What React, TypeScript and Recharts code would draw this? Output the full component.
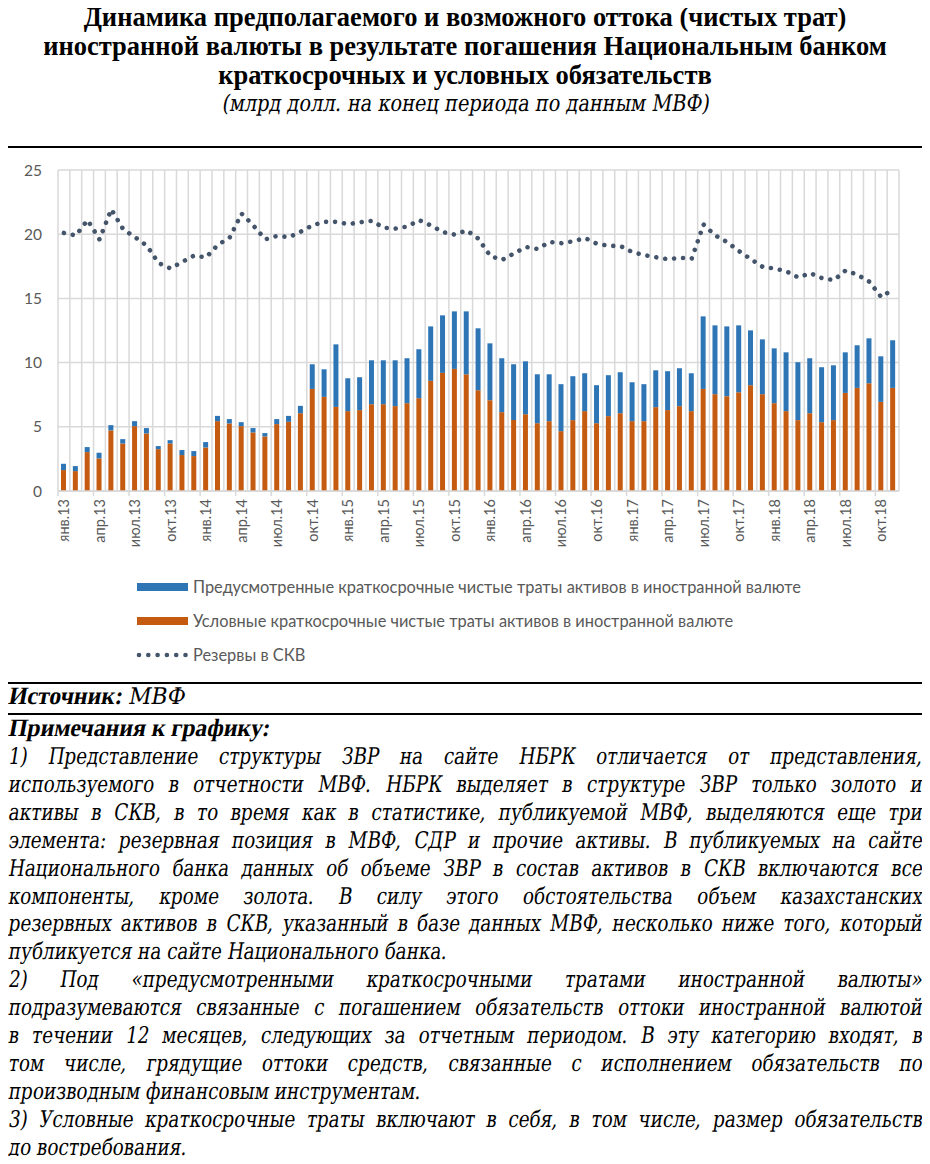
import React from 'react';
import { ComposedChart, Bar, Line, XAxis, YAxis, CartesianGrid } from 'recharts';

const months = [
  'янв.13','фев.13','мар.13','апр.13','май.13','июн.13','июл.13','авг.13','сен.13','окт.13','ноя.13','дек.13',
  'янв.14','фев.14','мар.14','апр.14','май.14','июн.14','июл.14','авг.14','сен.14','окт.14','ноя.14','дек.14',
  'янв.15','фев.15','мар.15','апр.15','май.15','июн.15','июл.15','авг.15','сен.15','окт.15','ноя.15','дек.15',
  'янв.16','фев.16','мар.16','апр.16','май.16','июн.16','июл.16','авг.16','сен.16','окт.16','ноя.16','дек.16',
  'янв.17','фев.17','мар.17','апр.17','май.17','июн.17','июл.17','авг.17','сен.17','окт.17','ноя.17','дек.17',
  'янв.18','фев.18','мар.18','апр.18','май.18','июн.18','июл.18','авг.18','сен.18','окт.18','ноя.18',
];

// Условные краткосрочные чистые траты (orange)
const conditional = [
  1.63, 1.55, 3.03, 2.54, 4.72, 3.70, 5.05, 4.48, 3.26, 3.70, 2.80, 2.72,
  3.39, 5.44, 5.26, 5.05, 4.56, 4.25, 5.21, 5.39, 6.06, 7.95, 7.33, 6.55,
  6.22, 6.30, 6.76, 6.76, 6.61, 6.84, 7.23, 8.58, 9.20, 9.51, 9.09, 7.85,
  7.07, 6.14, 5.52, 5.98, 5.28, 5.44, 4.66, 5.52, 6.22, 5.28, 5.83, 6.06,
  5.44, 5.44, 6.53, 6.30, 6.61, 6.22, 7.95, 7.54, 7.38, 7.69, 8.24, 7.54,
  6.84, 6.22, 5.52, 6.06, 5.36, 5.52, 7.64, 8.03, 8.39, 6.94, 8.03,
];

// Предусмотренные краткосрочные чистые траты (blue)
const predetermined = [
  0.49, 0.39, 0.39, 0.44, 0.41, 0.34, 0.39, 0.42, 0.24, 0.26, 0.39, 0.39,
  0.42, 0.41, 0.34, 0.31, 0.34, 0.26, 0.39, 0.46, 0.57, 1.92, 2.15, 4.87,
  2.56, 2.56, 3.42, 3.42, 3.57, 3.50, 3.81, 4.24, 4.48, 4.48, 4.90, 4.82,
  4.43, 4.20, 4.35, 4.12, 3.81, 3.65, 3.66, 3.42, 2.95, 2.96, 3.19, 3.19,
  3.03, 2.88, 2.87, 3.03, 2.95, 2.95, 5.65, 5.36, 5.44, 5.21, 4.27, 4.27,
  4.27, 4.58, 4.51, 4.28, 4.28, 4.27, 3.16, 3.32, 3.50, 3.55, 3.71,
];

// Резервы в СКВ
const reserves = [
  20.1, 19.9, 21.1, 19.6, 21.94, 20.39, 19.77, 19.1, 17.75, 17.33, 17.85, 18.34,
  18.19, 19.17, 19.74, 21.6, 20.67, 19.6, 19.87, 19.77, 20.2, 20.7, 20.96, 20.96,
  20.78, 20.93, 21.04, 20.5, 20.44, 20.6, 21.09, 20.67, 20.16, 19.97, 20.3, 19.64,
  18.3, 18.0, 18.5, 19.0, 18.85, 19.4, 19.3, 19.45, 19.7, 19.25, 19.1, 19.07,
  18.6, 18.37, 18.2, 18.05, 18.16, 18.1, 20.75, 19.9, 19.38, 18.68, 18.06, 17.45,
  17.33, 17.1, 16.63, 16.97, 16.58, 16.42, 17.18, 16.84, 16.3, 15.1, 15.72,
];

const yTicks = [0, 5, 10, 15, 20, 25];

const seriesNames = {
  pred: 'Предусмотренные краткосрочные чистые траты активов в иностранной валюте',
  cond: 'Условные краткосрочные чистые траты активов в иностранной валюте',
  res: 'Резервы в СКВ',
};

const titleLines = [
  'Динамика предполагаемого и возможного оттока (чистых трат)',
  'иностранной валюты в результате погашения Национальным банком',
  'краткосрочных и условных обязательств',
];
const subtitle = '(млрд долл. на конец периода по данным МВФ)';

const noteLines: [string, boolean][] = [
  ['1) Представление структуры ЗВР на сайте НБРК отличается от представления,', true],
  ['используемого в отчетности МВФ. НБРК выделяет в структуре ЗВР только золото и', true],
  ['активы в СКВ, в то время как в статистике, публикуемой МВФ, выделяются еще три', true],
  ['элемента: резервная позиция в МВФ, СДР и прочие активы. В публикуемых на сайте', true],
  ['Национального банка данных об объеме ЗВР в состав активов в СКВ включаются все', true],
  ['компоненты, кроме золота. В силу этого обстоятельства объем казахстанских', true],
  ['резервных активов в СКВ, указанный в базе данных МВФ, несколько ниже того, который', true],
  ['публикуется на сайте Национального банка.', false],
  ['2) Под «предусмотренными краткосрочными тратами иностранной валюты»', true],
  ['подразумеваются связанные с погашением обязательств оттоки иностранной валютой', true],
  ['в течении 12 месяцев, следующих за отчетным периодом. В эту категорию входят, в', true],
  ['том числе, грядущие оттоки средств, связанные с исполнением обязательств по', true],
  ['производным финансовым инструментам.', false],
  ['3) Условные краткосрочные траты включают в себя, в том числе, размер обязательств', true],
  ['до востребования.', false],
];

const data = months.map((m, i) => ({
  month: m,
  cond: conditional[i],
  pred: predetermined[i],
  res: reserves[i],
}));

const CHART_W = 930;
const CHART_H = 404;
const M_LEFT = 0;
const Y_W = 58;
const M_RIGHT = 31;
const PLOT_W = CHART_W - M_LEFT - Y_W - M_RIGHT;
const BAND = PLOT_W / months.length;

const BLUE = '#2E75B6';
const ORANGE = '#C55A11';
const DOT = '#44546A';
const GRID = '#D9D9D9';
const LABEL = '#595959';
const SANS = 'Lato, "Liberation Sans", sans-serif';
const SERIF_B = '"Liberation Serif", "DejaVu Serif", serif';
const SERIF_R = '"DejaVu Serif", "Liberation Serif", serif';
const NOTE_SX = 0.8;
const NOTE_W = 914 / NOTE_SX;

const XTick = (props: any) => {
  const { x, y, payload } = props;
  const bx = x - BAND / 2;
  return (
    <g>
      <line x1={bx} y1={y} x2={bx} y2={y + 5} stroke={GRID} strokeWidth={1.5} />
      <text
        x={x}
        y={y + 8}
        transform={`rotate(-90, ${x}, ${y + 8})`}
        textAnchor="end"
        dy="0.35em"
        fill={LABEL}
        fontSize={14.5}
        fontFamily={SANS}
      >
        {payload.value}
      </text>
    </g>
  );
};

const vGen = (args: any) => {
  const off = args && args.offset ? args.offset : { left: M_LEFT + Y_W, width: PLOT_W };
  const step = off.width / months.length;
  const arr: number[] = [];
  for (let i = 0; i <= months.length; i++) arr.push(off.left + i * step);
  return arr;
};

const noteStyle = (top: number, justify: boolean, bold = false): React.CSSProperties => ({
  position: 'absolute',
  left: 8,
  top,
  width: NOTE_W,
  fontFamily: bold ? SERIF_B : SERIF_R,
  fontWeight: bold ? 'bold' : 'normal',
  fontSize: bold ? 25 : 23,
  lineHeight: '28px',
  textAlign: justify ? 'justify' : 'left',
  textAlignLast: justify ? 'justify' : 'left',
  transform: `scaleX(${bold ? 0.95 : NOTE_SX}) skewX(-11deg)`,
  transformOrigin: '0 75%',
  whiteSpace: 'normal',
});

export default function App() {
  return (
    <div
      style={{
        position: 'relative',
        width: 930,
        height: 1164,
        margin: -8,
        background: '#fff',
        overflow: 'hidden',
        fontFamily: SERIF_B,
        color: '#000',
      }}
    >
      {titleLines.map((t, i) => (
        <div
          key={i}
          style={{
            position: 'absolute',
            left: 0,
            top: 3 + i * 29,
            width: 930,
            textAlign: 'center',
            fontWeight: 'bold',
            fontSize: 26.5,
            lineHeight: '29px',
            whiteSpace: 'nowrap',
          }}
        >
          {t}
        </div>
      ))}
      <div
        style={{
          position: 'absolute',
          left: 0,
          top: 89,
          width: 930,
          textAlign: 'center',
          lineHeight: '29px',
          whiteSpace: 'nowrap',
        }}
      >
        <span
          style={{
            display: 'inline-block',
            fontFamily: SERIF_R,
            fontSize: 23,
            transform: 'scaleX(0.84) skewX(-11deg)',
            transformOrigin: '50% 75%',
          }}
        >
          {subtitle}
        </span>
      </div>

      <div style={{ position: 'absolute', left: 0, top: 146, width: 930, height: 1.5, background: '#000' }} />

      <div style={{ position: 'absolute', left: 0, top: 147 }}>
        <ComposedChart
          width={CHART_W}
          height={CHART_H}
          data={data}
          margin={{ top: 23, right: M_RIGHT, left: M_LEFT, bottom: 0 }}
        >
          <CartesianGrid stroke={GRID} strokeWidth={1.5} verticalCoordinatesGenerator={vGen} />
          <XAxis
            dataKey="month"
            interval={2}
            tickLine={false}
            tickSize={0}
            tickMargin={0}
            axisLine={{ stroke: GRID, strokeWidth: 1.5 }}
            tick={XTick}
            height={60}
          />
          <YAxis
            domain={[0, 25]}
            ticks={yTicks}
            axisLine={false}
            tickLine={false}
            tickSize={0}
            tickMargin={16}
            width={Y_W}
            tick={{ fill: LABEL, fontSize: 15.5, fontFamily: SANS }}
          />
          <Bar dataKey="cond" name={seriesNames.cond} stackId="a" fill={ORANGE} barSize={5} isAnimationActive={false} />
          <Bar dataKey="pred" name={seriesNames.pred} stackId="a" fill={BLUE} barSize={5} isAnimationActive={false} />
          <Line
            dataKey="res"
            name={seriesNames.res}
            type="linear"
            stroke={DOT}
            strokeWidth={4.6}
            strokeDasharray="0.001 9"
            strokeLinecap="round"
            dot={false}
            activeDot={false}
            isAnimationActive={false}
          />
        </ComposedChart>
      </div>

      {/* Legend */}
      <div style={{ position: 'absolute', left: 137, top: 583, width: 51, height: 8, background: BLUE }} />
      <div style={{ position: 'absolute', left: 193, top: 577, fontFamily: SANS, fontSize: 16.4, lineHeight: '20px', color: LABEL, whiteSpace: 'nowrap' }}>
        {seriesNames.pred}
      </div>
      <div style={{ position: 'absolute', left: 137, top: 617, width: 51, height: 8, background: ORANGE }} />
      <div style={{ position: 'absolute', left: 193, top: 611, fontFamily: SANS, fontSize: 16.4, lineHeight: '20px', color: LABEL, whiteSpace: 'nowrap' }}>
        {seriesNames.cond}
      </div>
      <svg style={{ position: 'absolute', left: 130, top: 645 }} width={64} height={20}>
        <line x1={9} y1={10} x2={56} y2={10} stroke={DOT} strokeWidth={4.6} strokeDasharray="0.001 9.3" strokeLinecap="round" />
      </svg>
      <div style={{ position: 'absolute', left: 193, top: 645, fontFamily: SANS, fontSize: 16.4, lineHeight: '20px', color: LABEL, whiteSpace: 'nowrap' }}>
        {seriesNames.res}
      </div>

      <div style={{ position: 'absolute', left: 0, top: 682, width: 930, height: 1.5, background: '#000' }} />
      <div style={{ ...noteStyle(682, false, true), width: 400 }}>
        Источник: <span style={{ fontFamily: SERIF_R, fontWeight: 'normal', fontSize: 23 }}>МВФ</span>
      </div>
      <div style={{ position: 'absolute', left: 0, top: 713, width: 930, height: 1.5, background: '#000' }} />
      <div style={{ ...noteStyle(714, false, true), width: 500 }}>Примечания к графику:</div>
      {noteLines.map(([t, j], i) => (
        <div key={i} style={noteStyle(742 + i * 27.9, j)}>
          {t}
        </div>
      ))}
    </div>
  );
}
